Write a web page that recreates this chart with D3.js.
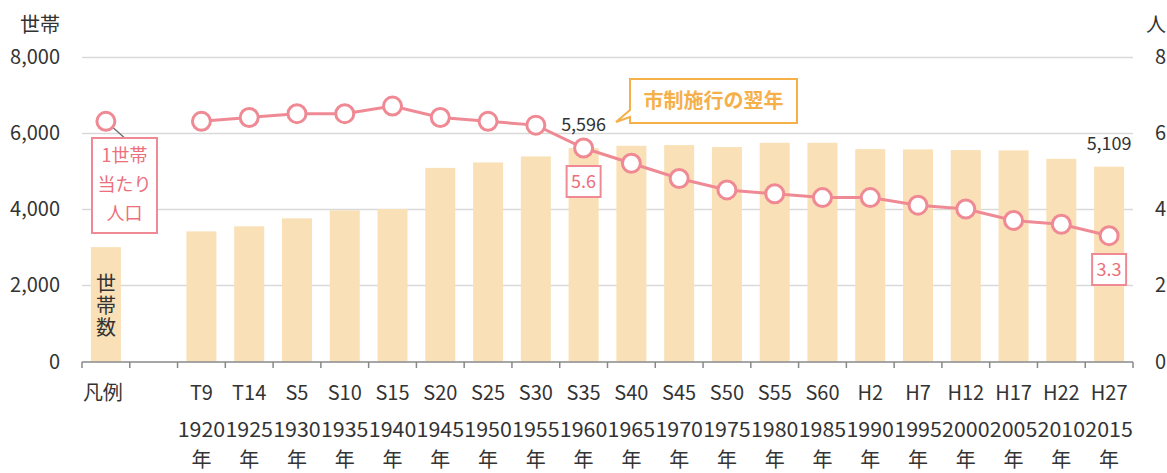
<!DOCTYPE html>
<html>
<head>
<meta charset="utf-8">
<script src="https://cdn.jsdelivr.net/npm/d3@7"></script>
<style>
  body { margin: 0; background: #fff; }
  svg { font-family: "Noto Sans CJK JP", "Noto Sans", sans-serif; }
</style>
</head>
<body>
<div class="chart"></div>
<script>
var eraLabels = ["T9", "T14", "S5", "S10", "S15", "S20", "S25", "S30", "S35", "S40",
  "S45", "S50", "S55", "S60", "H2", "H7", "H12", "H17", "H22", "H27"];
var yearLabels = ["1920", "1925", "1930", "1935", "1940", "1945", "1950", "1955", "1960", "1965",
  "1970", "1975", "1980", "1985", "1990", "1995", "2000", "2005", "2010", "2015"];
var households = [3413, 3545, 3755, 3966, 4000, 5079, 5221, 5379, 5596, 5658,
  5676, 5624, 5737, 5737, 5571, 5563, 5545, 5537, 5316, 5109];
var perHousehold = [6.3, 6.4, 6.5, 6.5, 6.7, 6.4, 6.3, 6.2, 5.6, 5.2,
  4.8, 4.5, 4.4, 4.3, 4.3, 4.1, 4.0, 3.7, 3.6, 3.3];
var leftTicks = [0, 2000, 4000, 6000, 8000];
var rightTicks = [0, 2, 4, 6, 8];
var legendLabel = "凡例";
var legendBarValue = 3000;
var legendPointValue = 6.3;

var W = 1167, H = 473;
var pink = "#ef8a94", pinkText = "#ec6f7c", barFill = "#fae0b6", orange = "#f5b04a";

var svg = d3.select(".chart").append("svg")
  .attr("width", W).attr("height", H);

// category slots: legend, a spacer, then the years
var slots = [legendLabel, "_gap"].concat(eraLabels);

var x = d3.scaleBand().domain(slots).range([82, 1133]).paddingInner(0).paddingOuter(0);
var barW = 30;
var yL = d3.scaleLinear().domain([0, 8000]).range([361.5, 56.5]);
var yR = d3.scaleLinear().domain([0, 8]).range([361.5, 56.5]);
var cx = d => x(d) + x.bandwidth() / 2;

// grid
svg.append("g").selectAll("line").data(leftTicks.filter(d => d > 0)).join("line")
  .attr("x1", 82).attr("x2", 1133)
  .attr("y1", d => Math.round(yL(d)) + 0.5).attr("y2", d => Math.round(yL(d)) + 0.5)
  .attr("stroke", "#d9d9d9").attr("stroke-width", 1.5);

// left axis labels
svg.append("g").selectAll("text").data(leftTicks).join("text")
  .attr("x", 60).attr("y", d => yL(d)).attr("dy", "0.35em")
  .attr("text-anchor", "end").attr("font-size", 20).attr("fill", "#333")
  .text(d => d3.format(",")(d));
svg.append("text").attr("x", 60).attr("y", 32).attr("text-anchor", "end")
  .attr("font-size", 20).attr("fill", "#333").text("世帯");

// right axis labels
svg.append("g").selectAll("text").data(rightTicks).join("text")
  .attr("x", 1155).attr("y", d => yR(d)).attr("dy", "0.35em")
  .attr("font-size", 20).attr("fill", "#333").text(d => d);
svg.append("text").attr("x", 1146).attr("y", 32)
  .attr("font-size", 20).attr("fill", "#333").text("人");

// bars
var years = eraLabels.map((e, i) => ({ era: e, year: yearLabels[i], hh: households[i], pp: perHousehold[i] }));

svg.append("g").selectAll("rect").data(years).join("rect")
  .attr("x", d => cx(d.era) - barW / 2).attr("width", barW)
  .attr("y", d => yL(d.hh)).attr("height", d => yL(0) - yL(d.hh))
  .attr("fill", barFill);

// legend bar
svg.append("rect")
  .attr("x", cx(legendLabel) - barW / 2).attr("width", barW)
  .attr("y", yL(legendBarValue)).attr("height", yL(0) - yL(legendBarValue))
  .attr("fill", barFill);
svg.append("text")
  .attr("x", cx(legendLabel)).attr("y", 273)
  .attr("writing-mode", "vertical-rl").attr("letter-spacing", 2)
  .attr("font-size", 20).attr("fill", "#333").text("世帯数");

// x axis line + ticks at band edges
svg.append("line").attr("x1", 82).attr("x2", 1133).attr("y1", 362).attr("y2", 362)
  .attr("stroke", "#888").attr("stroke-width", 1.5);
var edges = slots.map(d => x(d)).concat([x.range()[1]]);
svg.append("g").selectAll("line").data(edges).join("line")
  .attr("x1", d => d).attr("x2", d => d).attr("y1", 362).attr("y2", 368)
  .attr("stroke", "#888").attr("stroke-width", 1.5);

// x labels
var xl = svg.append("g").attr("font-size", 20).attr("fill", "#333").attr("text-anchor", "middle");
xl.append("text").attr("x", cx(legendLabel) - 3).attr("y", 400).text(legendLabel);
years.forEach(d => {
  xl.append("text").attr("x", cx(d.era)).attr("y", 400).text(d.era);
  xl.append("text").attr("x", cx(d.era)).attr("y", 437).attr("textLength", 47.5)
    .attr("lengthAdjust", "spacingAndGlyphs").text(d.year);
  xl.append("text").attr("x", cx(d.era)).attr("y", 467).text("年");
});

// line
var line = d3.line().x(d => cx(d.era)).y(d => yR(d.pp));
svg.append("path").datum(years).attr("d", line)
  .attr("fill", "none").attr("stroke", pink).attr("stroke-width", 3);
svg.append("g").selectAll("circle").data(years).join("circle")
  .attr("cx", d => cx(d.era)).attr("cy", d => yR(d.pp)).attr("r", 9)
  .attr("fill", "#fff").attr("stroke", pink).attr("stroke-width", 3);

// legend point + box
var lpx = cx(legendLabel), lpy = yR(legendPointValue);
svg.append("line").attr("x1", lpx).attr("y1", lpy).attr("x2", lpx + 18).attr("y2", lpy + 16)
  .attr("stroke", "#666").attr("stroke-width", 1.2);
svg.append("circle").attr("cx", lpx).attr("cy", lpy).attr("r", 9)
  .attr("fill", "#fff").attr("stroke", pink).attr("stroke-width", 3);
svg.append("rect").attr("x", 92).attr("y", 138).attr("width", 65).attr("height", 95)
  .attr("fill", "#fff").attr("stroke", pink).attr("stroke-width", 2);
["1世帯", "当たり", "人口"].forEach((t, i) => {
  svg.append("text").attr("x", 124.5).attr("y", 162 + i * 29).attr("text-anchor", "middle")
    .attr("font-size", 18).attr("fill", pinkText).text(t);
});

// value labels
var first = years[8], last = years[years.length - 1];
svg.append("text").attr("x", cx(first.era)).attr("y", 131).attr("text-anchor", "middle")
  .attr("font-size", 18).attr("fill", "#333").text(d3.format(",")(first.hh));
svg.append("text").attr("x", cx(last.era)).attr("y", 150).attr("text-anchor", "middle")
  .attr("font-size", 18).attr("fill", "#333").text(d3.format(",")(last.hh));

function ppBox(d, top) {
  var bx = cx(d.era) - 17;
  svg.append("rect").attr("x", bx).attr("y", top).attr("width", 34).attr("height", 31)
    .attr("fill", "#fff").attr("stroke", pink).attr("stroke-width", 2);
  svg.append("text").attr("x", cx(d.era)).attr("y", top + 15.5).attr("dy", "0.35em")
    .attr("text-anchor", "middle").attr("font-size", 18).attr("fill", pinkText)
    .text(d3.format(".1f")(d.pp));
}
ppBox(first, 166);
ppBox(last, 254);

// callout
var cb = { x: 630, y: 79, w: 167, h: 44 };
svg.append("path")
  .attr("d", `M${cb.x},${cb.y} H${cb.x + cb.w} V${cb.y + cb.h} H${cb.x} V${cb.y + 38} L616,122 L${cb.x},${cb.y + 31} Z`)
  .attr("fill", "#fff").attr("stroke", orange).attr("stroke-width", 2);
svg.append("text").attr("x", cb.x + cb.w / 2).attr("y", cb.y + cb.h / 2).attr("dy", "0.35em")
  .attr("text-anchor", "middle").attr("font-size", 20).attr("font-weight", "bold")
  .attr("fill", orange).text("市制施行の翌年");
</script>
</body>
</html>
